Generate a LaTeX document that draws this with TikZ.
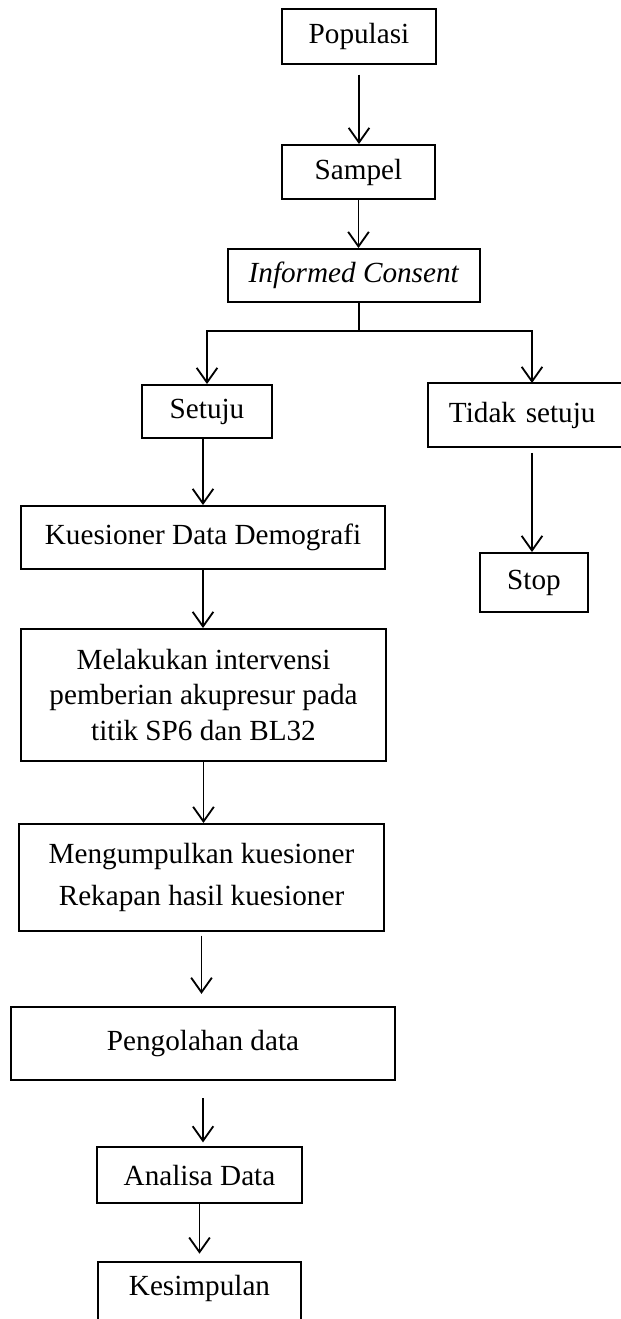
\documentclass[tikz,border=0pt]{standalone}
\usepackage{fontspec}
\setmainfont{Liberation Serif}
\usetikzlibrary{arrows.meta}
\newcommand{\px}{0.411pt}

\begin{document}
\begin{tikzpicture}[
    x=\px, y=-\px,
    box/.style={
        draw,
        line width=0.8pt,
        inner sep=0pt,
        align=center,
        font=\fontsize{12}{14.4}\selectfont
    },
    arr/.style={-{Straight Barb[length=6pt, width=8.5pt, line width=0.75pt]}, line width=0.75pt}
  ]
    \useasboundingbox (0,0) rectangle (621,1319);

    % Main column
    \node[box, minimum width=154*\px, minimum height=55*\px] (pop) at (359,36.5) {Populasi};
    \node[box, minimum width=153*\px, minimum height=54*\px] (sampel) at (358.5,172) {Sampel};
    \node[box, minimum width=252*\px, minimum height=53*\px] (consent) at (354,275.5) {\textit{Informed Consent}};

    % Two branches
    \node[box, minimum width=130*\px, minimum height=53*\px] (setuju) at (207,411.5) {Setuju};
    \node[box, anchor=west, text width=200*\px, inner xsep=21*\px, align=left, minimum height=64*\px] (tidak) at (427,415) {Tidak setuju};
    \node[box, minimum width=108*\px, minimum height=59*\px] (stop) at (534,582.5) {Stop};

    % Steps after agreement
    \node[box, minimum width=364*\px, minimum height=63*\px] (demo) at (203,537.5) {Kuesioner Data Demografi};
    \node[box, minimum width=365*\px, minimum height=132*\px] (interv) at (203.5,695) {Melakukan intervensi\\pemberian akupresur pada\\titik SP6 dan BL32};
    \node[box, minimum width=365*\px, minimum height=107*\px, font=\fontsize{12}{17.1}\selectfont] (kumpul) at (201.5,877.5) {Mengumpulkan kuesioner\\Rekapan hasil kuesioner};
    \node[box, minimum width=384*\px, minimum height=73*\px] (olah) at (203,1043.5) {Pengolahan data};
    \node[box, minimum width=205*\px, minimum height=56*\px] (analisa) at (199.5,1175) {Analisa Data};
    \node[box, anchor=north, minimum width=203*\px, text height=34*\px, text depth=50*\px] (simpul) at (199.5,1261) {Kesimpulan};

    % Split point
    \coordinate (split) at (359,331);
    \coordinate (tidakin) at (532,383);

    % Arrows
    \draw[arr, shorten <=4pt] (pop.south) -- (pop.south |- sampel.north);
    \draw[arr] (sampel.south) -- (sampel.south |- consent.north);
    \draw[line width=0.8pt] (split |- consent.south) -- (split);
    \draw[arr, line width=0.8pt] (split) -| (setuju.north);
    \draw[arr, line width=0.8pt] (split) -| (tidakin);
    \draw[arr, shorten <=2pt] (tidakin |- tidak.south) -- (tidakin |- stop.north);
    \draw[arr] (demo.north |- setuju.south) -- (demo.north);
    \draw[arr] (demo.south) -- (demo.south |- interv.north);
    \draw[arr] (interv.south) -- (interv.south |- kumpul.north);
    \draw[arr, shorten <=1.5pt, shorten >=5pt] (kumpul.south) -- (kumpul.south |- olah.north);
    \draw[arr, shorten <=7pt, shorten >=1.5pt] (olah.south) -- (olah.south |- analisa.north);
    \draw[arr, shorten >=3pt] (analisa.south) -- (analisa.south |- simpul.north);
\end{tikzpicture}
\end{document}
